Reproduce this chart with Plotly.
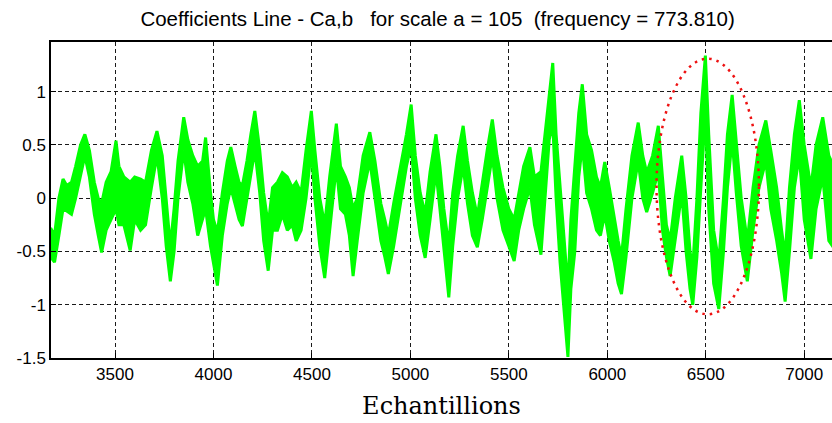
import plotly.graph_objects as go

# Samples (x) with upper / lower envelope of the noisy coefficient line
samples = [3173, 3193, 3215, 3236, 3255, 3279, 3300, 3325, 3347, 3370, 3395, 3415, 3432, 3455, 3480,
           3505, 3520, 3545, 3577, 3600, 3630, 3655, 3685, 3713, 3740, 3760, 3781, 3800, 3820, 3849,
           3870, 3895, 3920, 3945, 3960, 3985, 4000, 4020, 4045, 4070, 4088, 4110, 4130, 4147, 4170,
           4190, 4210, 4235, 4255, 4278, 4300, 4325, 4350, 4375, 4400, 4420, 4445, 4470, 4497, 4515,
           4540, 4565, 4590, 4624, 4645, 4670, 4690, 4709, 4730, 4760, 4794, 4820, 4850, 4870, 4888,
           4915, 4950, 4980, 5004, 5025, 5050, 5075, 5100, 5130, 5150, 5170, 5195, 5215, 5240, 5268,
           5290, 5315, 5340, 5365, 5390, 5416, 5440, 5470, 5500, 5527, 5550, 5575, 5607, 5630, 5663,
           5690, 5705, 5723, 5740, 5760, 5780, 5800, 5815, 5835, 5855, 5873, 5895, 5920, 5945, 5965,
           5987, 6010, 6035, 6055, 6072, 6095, 6125, 6157, 6180, 6200, 6230, 6259, 6280, 6300, 6319,
           6345, 6378, 6400, 6420, 6434, 6455, 6475, 6498, 6515, 6540, 6566, 6590, 6610, 6634, 6655,
           6680, 6711, 6740, 6770, 6805, 6830, 6860, 6885, 6903, 6925, 6950, 6975, 7000, 7034, 7060,
           7094, 7125, 7162]

coef_upper = [-0.28, -0.35, 0.00, 0.18, 0.12, 0.15, 0.30, 0.50, 0.60, 0.45, 0.15, 0.00, -0.05, 0.15, 0.25,
              0.54, 0.30, 0.20, 0.15, 0.20, 0.18, 0.15, 0.45, 0.63, 0.40, 0.00, -0.45, -0.10, 0.35, 0.76,
              0.55, 0.40, 0.30, 0.35, 0.57, 0.05, -0.20, -0.32, 0.05, 0.35, 0.48, 0.30, 0.15, 0.12, 0.35,
              0.60, 0.82, 0.45, 0.05, -0.25, 0.10, 0.15, 0.24, 0.20, 0.10, 0.15, 0.05, 0.45, 0.82, 0.45,
              0.00, -0.25, 0.20, 0.70, 0.30, 0.20, 0.10, -0.10, 0.00, 0.40, 0.62, 0.35, -0.05, -0.20, -0.35,
              -0.05, 0.30, 0.60, 0.88, 0.40, 0.05, -0.15, 0.25, 0.60, 0.30, -0.10, -0.45, 0.05, 0.40, 0.68,
              0.35, 0.05, -0.17, 0.15, 0.45, 0.74, 0.40, 0.10, -0.10, -0.20, 0.05, 0.30, 0.48, 0.20, 0.25,
              0.70, 1.00, 1.27, 0.60, 0.10, -0.40, -0.85, -0.20, 0.30, 0.80, 1.07, 0.60, 0.45, 0.20, 0.10,
              0.34, 0.10, -0.20, -0.40, -0.55, -0.10, 0.40, 0.71, 0.40, 0.24, 0.40, 0.68, 0.20, -0.25, -0.40,
              0.00, 0.40, 0.00, -0.50, -0.65, 0.00, 0.80, 1.34, 0.60, -0.30, -0.60, 0.00, 0.60, 0.97, 0.50,
              0.00, -0.40, 0.10, 0.50, 0.73, 0.45, 0.10, -0.30, -0.55, 0.10, 0.60, 0.92, 0.50, 0.10, 0.50,
              0.76, 0.40, 0.25]

coef_lower = [-0.55, -0.60, -0.35, -0.10, -0.12, -0.15, 0.00, 0.20, 0.40, 0.20, -0.15, -0.35, -0.51, -0.30, -0.20,
              -0.10, -0.25, -0.25, -0.49, -0.20, -0.30, -0.25, 0.10, 0.40, 0.00, -0.45, -0.78, -0.50, 0.00, 0.45,
              0.15, -0.05, -0.35, -0.20, -0.10, -0.45, -0.60, -0.82, -0.35, -0.05, 0.10, -0.05, -0.20, -0.26, 0.00,
              0.20, 0.45, 0.05, -0.40, -0.68, -0.30, -0.30, -0.15, -0.30, -0.25, -0.40, -0.30, 0.00, 0.45, 0.00,
              -0.45, -0.75, -0.30, 0.30, -0.10, -0.15, -0.35, -0.73, -0.40, 0.05, 0.35, 0.00, -0.40, -0.55, -0.71,
              -0.45, -0.05, 0.30, 0.50, 0.00, -0.35, -0.56, -0.20, 0.25, -0.10, -0.50, -0.93, -0.45, 0.00, 0.30,
              -0.05, -0.35, -0.46, -0.20, 0.10, 0.40, 0.00, -0.30, -0.45, -0.59, -0.30, -0.10, 0.10, -0.25, -0.53,
              0.15, 0.55, 0.70, 0.00, -0.60, -1.05, -1.49, -0.85, -0.50, 0.20, 0.50, 0.05, -0.10, -0.30, -0.35,
              -0.15, -0.40, -0.60, -0.80, -0.90, -0.55, 0.00, 0.35, 0.00, -0.13, 0.05, 0.25, -0.30, -0.55, -0.73,
              -0.40, 0.05, -0.50, -0.85, -1.00, -0.55, 0.10, 0.80, -0.10, -0.80, -1.04, -0.50, 0.10, 0.55, 0.05,
              -0.45, -0.78, -0.30, 0.10, 0.35, -0.10, -0.40, -0.70, -0.97, -0.50, 0.10, 0.40, -0.20, -0.57, -0.10,
              0.20, -0.40, -0.50]

x_ticks = [3500, 4000, 4500, 5000, 5500, 6000, 6500, 7000]
x_ticklabels = ["3500", "4000", "4500", "5000", "5500", "6000", "6500", "7000"]
y_ticks = [-1.5, -1, -0.5, 0, 0.5, 1]
y_ticklabels = ["-1.5", "-1", "-0.5", "0", "0.5", "1"]

title_text = "Coefficients Line - Ca,b\u00a0\u00a0\u00a0for scale a = 105\u00a0\u00a0(frequency = 773.810)"
x_title = "Echantillions"

GREEN = "#00ff00"

fig = go.Figure()
fig.add_trace(go.Scatter(x=samples, y=coef_lower, mode="lines",
                         line=dict(color=GREEN, width=3), showlegend=False, hoverinfo="skip"))
fig.add_trace(go.Scatter(x=samples, y=coef_upper, mode="lines", fill="tonexty",
                         fillcolor=GREEN, line=dict(color=GREEN, width=3), showlegend=False))

# red dotted ellipse highlighting the region around 6500
fig.add_shape(type="circle", xref="x", yref="y", x0=6250, x1=6770, y0=-1.09, y1=1.31,
              line=dict(color="#ee1111", width=2.5, dash="2.5px,5px"), layer="above")

axis_font = dict(family="Liberation Sans, Arial, sans-serif", size=17, color="#000000")

fig.update_layout(
    width=832, height=423,
    margin=dict(l=51, r=0, t=42, b=65),
    paper_bgcolor="white", plot_bgcolor="white",
    title=dict(text=title_text, x=0.526, xanchor="center", y=0.955, yanchor="middle",
               font=dict(family="Liberation Sans, Arial, sans-serif", size=20.5, color="#000000")),
    showlegend=False,
)
fig.update_xaxes(range=[3175, 7141], tickvals=x_ticks, ticktext=x_ticklabels,
                 showgrid=True, gridcolor="#1a1a1a", gridwidth=1, griddash="4px,3px",
                 zeroline=False, showline=True, linecolor="#000000", linewidth=1.5, mirror=True,
                 ticks="inside", ticklen=5, tickcolor="#000000", tickfont=axis_font,
                 title=dict(text=x_title, font=dict(family="DejaVu Serif, serif", size=24, color="#000000"),
                            standoff=14))
fig.update_yaxes(range=[-1.5, 1.467], tickvals=y_ticks, ticktext=y_ticklabels,
                 showgrid=True, gridcolor="#1a1a1a", gridwidth=1, griddash="4px,3px",
                 zeroline=False, showline=True, linecolor="#000000", linewidth=1.5, mirror=False,
                 ticks="inside", ticklen=5, tickcolor="#000000", tickfont=axis_font)

# remove the default page margin so the 832x423 figure fills the window exactly
fig.write_html("out.html", config={"displayModeBar": False},
               post_script="document.body.style.margin='0';document.body.style.overflow='hidden';")
